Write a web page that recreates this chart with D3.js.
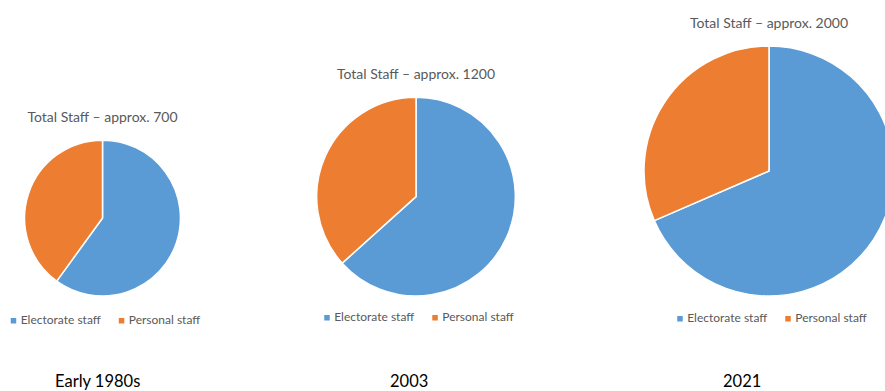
<!DOCTYPE html>
<html>
<head>
<meta charset="utf-8">
<script src="https://cdn.jsdelivr.net/npm/d3@7"></script>
<style>
  body { margin: 0; background: #fff; }
  text { font-family: Lato, "Open Sans", sans-serif; }
</style>
</head>
<body>
<div id="chart"></div>
<script>
// data
var periods = ["Early 1980s", "2003", "2021"];
var totals = [700, 1200, 2000];
var electorate = [420, 760, 1370];
var personal = [280, 440, 630];
var seriesNames = ["Electorate staff", "Personal staff"];
var colors = ["#5B9BD5", "#ED7D31"];

var width = 885, height = 391;

// where each small pie sits
var centersX = [102.5, 416, 769];
var legendY = [324, 321, 322];
var periodX = [55, 390, 723];
var baseY = 296;

var svg = d3.select("#chart").append("svg")
  .attr("width", width)
  .attr("height", height);

// pie size grows with total staff
var rScale = d3.scalePow().exponent(0.45)
  .domain([0, 2000])
  .range([0, 125]);

var pie = d3.pie().sort(null).value(function (d) { return d; });

periods.forEach(function (p, i) {
  var r = rScale(totals[i]);
  var cx = centersX[i], cy = baseY - r;
  var g = svg.append("g").attr("transform", "translate(" + cx + "," + cy + ")");

  var arc = d3.arc().innerRadius(0).outerRadius(r);

  g.selectAll("path")
    .data(pie([electorate[i], personal[i]]))
    .enter()
    .append("path")
    .attr("d", arc)
    .attr("fill", function (d, j) { return colors[j]; })
    .attr("stroke", "#fff")
    .attr("stroke-width", 1.5)
    .attr("stroke-linejoin", "round");

  // title
  svg.append("text")
    .attr("x", cx)
    .attr("y", cy - r - 18.5)
    .attr("text-anchor", "middle")
    .attr("fill", "#595959")
    .style("font-size", "14px")
    .text("Total Staff \u2013 approx. " + totals[i]);

  // legend
  var lg = svg.append("g");
  var xx = 0;
  seriesNames.forEach(function (name, j) {
    lg.append("rect")
      .attr("x", xx)
      .attr("y", legendY[i] - 6)
      .attr("width", 5.5)
      .attr("height", 5.5)
      .attr("fill", colors[j]);
    var t = lg.append("text")
      .attr("x", xx + 10)
      .attr("y", legendY[i])
      .attr("fill", "#595959")
      .style("font-size", "12px")
      .text(name);
    xx = xx + 10 + t.node().getComputedTextLength() + 18;
  });
  var lw = xx - 18;
  lg.attr("transform", "translate(" + (cx + 3 - lw / 2) + ",0)");

  // period label at the bottom
  svg.append("text")
    .attr("x", periodX[i])
    .attr("y", 386.5)
    .attr("fill", "#000")
    .style("font-size", "16.5px")
    .text(p);
});
</script>
</body>
</html>
